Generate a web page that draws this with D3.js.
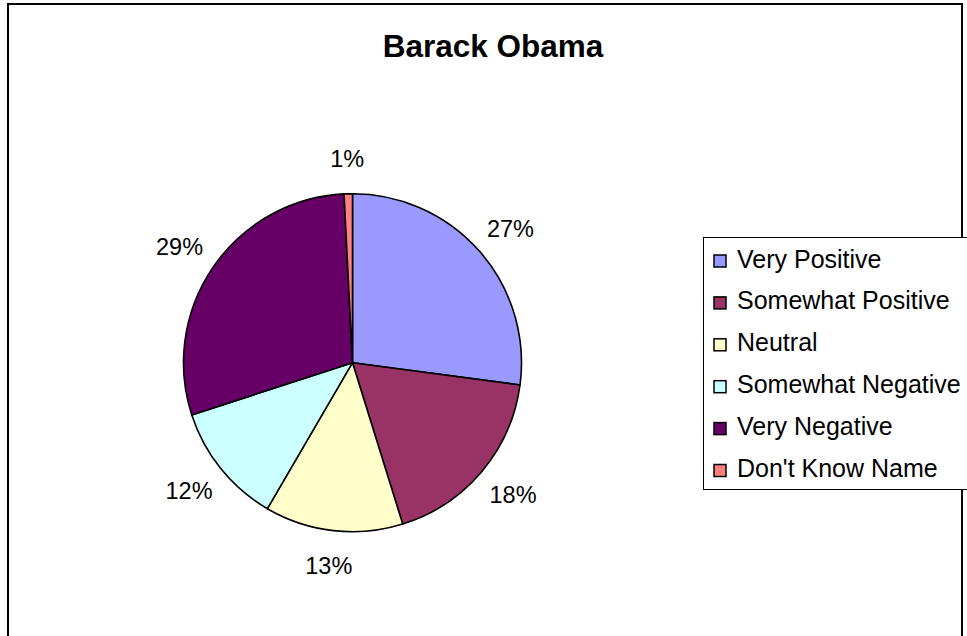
<!DOCTYPE html>
<html>
<head>
<meta charset="utf-8">
<script src="https://cdn.jsdelivr.net/npm/d3@7"></script>
<style>
  html, body { margin: 0; padding: 0; background: #fff; }
  svg { display: block; }
  text { font-family: "Liberation Sans", Arial, sans-serif; fill: #000; }
</style>
</head>
<body>
<svg id="chart" width="967" height="636"></svg>
<script>
const title = "Barack Obama";
const categories = ["Very Positive", "Somewhat Positive", "Neutral", "Somewhat Negative", "Very Negative", "Don't Know Name"];
const values = [27.1, 18.1, 13.2, 11.6, 29.2, 0.8];
const labels = ["27%", "18%", "13%", "12%", "29%", "1%"];
const colors = ["#9999FF", "#993366", "#FFFFCC", "#CCFFFF", "#660066", "#FF8080"];

const svg = d3.select("#chart");

// outer chart border
svg.append("rect")
  .attr("x", 8).attr("y", 4)
  .attr("width", 954).attr("height", 660)
  .attr("fill", "none").attr("stroke", "#000").attr("stroke-width", 2);

// title
svg.append("text")
  .attr("x", 493).attr("y", 57)
  .attr("text-anchor", "middle")
  .attr("font-size", 31.5).attr("font-weight", "bold")
  .text(title);

const cx = 352.5, cy = 362.7, r = 169;
const g = svg.append("g").attr("transform", `translate(${cx},${cy})`);

const pie = d3.pie().sort(null).value(d => d.v);
const data = pie(categories.map((c, i) => ({ c, v: values[i], label: labels[i], color: colors[i] })));
const arc = d3.arc().innerRadius(0).outerRadius(r);

g.selectAll("path.slice")
  .data(data)
  .join("path")
  .attr("class", "slice")
  .attr("d", arc)
  .attr("fill", d => d.data.color)
  .attr("stroke", "#000")
  .attr("stroke-width", 1.6)
  .attr("stroke-linejoin", "round");

// outside labels
const rx = 210, ry = 204;
g.selectAll("text.lbl")
  .data(data)
  .join("text")
  .attr("class", "lbl")
  .attr("x", d => rx * Math.sin((d.startAngle + d.endAngle) / 2))
  .attr("y", d => -ry * Math.cos((d.startAngle + d.endAngle) / 2) + 8.5)
  .attr("text-anchor", "middle")
  .attr("font-size", 23.5)
  .text(d => d.data.label);

// legend
const lx = 703.5, ly = 237.5, rowH = 41.9;
const legend = svg.append("g");
legend.append("rect")
  .attr("x", lx).attr("y", ly)
  .attr("width", 300).attr("height", 252)
  .attr("fill", "#fff").attr("stroke", "#000").attr("stroke-width", 1);

const items = legend.selectAll("g.item")
  .data(categories)
  .join("g")
  .attr("class", "item")
  .attr("transform", (d, i) => `translate(${lx}, ${ly + 30 + i * rowH})`);

items.append("rect")
  .attr("x", 10.5).attr("y", -12.5)
  .attr("width", 12).attr("height", 12)
  .attr("fill", (d, i) => colors[i])
  .attr("stroke", "#000").attr("stroke-width", 1.5);

items.append("text")
  .attr("x", 33.5).attr("y", 0)
  .attr("font-size", 25)
  .text(d => d);
</script>
</body>
</html>
